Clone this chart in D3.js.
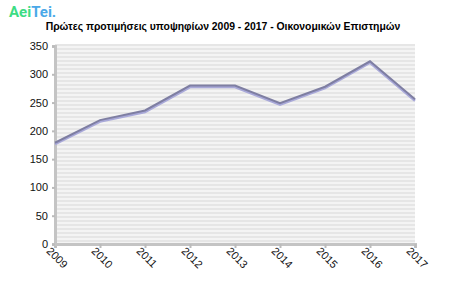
<!DOCTYPE html>
<html>
<head>
<meta charset="utf-8">
<script src="https://d3js.org/d3.v7.min.js"></script>
<style>
  body { margin: 0; background: #fff; font-family: "Liberation Sans", Arial, sans-serif; }
</style>
</head>
<body>
<div id="chart"></div>
<script>
const years = ["2009", "2010", "2011", "2012", "2013", "2014", "2015", "2016", "2017"]
const values = [179, 219, 236, 280, 280, 249, 278, 323, 256]
const yTicks = [0, 50, 100, 150, 200, 250, 300, 350]
const title = "Πρώτες προτιμήσεις υποψηφίων 2009 - 2017 - Οικονομικών Επιστημών"

const w = 450, h = 300
const padding = { top: 46, right: 35, bottom: 56, left: 55 }

const svg = d3.select("#chart").append("svg")
    .attr("width", w)
    .attr("height", h)

// striped plot background
const defs = svg.append("defs")
const pat = defs.append("pattern")
    .attr("id", "stripes")
    .attr("patternUnits", "userSpaceOnUse")
    .attr("width", 8).attr("height", 4)
pat.append("rect").attr("width", 8).attr("height", 4).attr("fill", "#f4f4f4")
pat.append("rect").attr("y", 0).attr("width", 8).attr("height", 2).attr("fill", "#e6e6e6")

const xScale = d3.scalePoint()
    .domain(years)
    .range([padding.left, w - padding.right])
const yScale = d3.scaleLinear()
    .domain([0, 350])
    .range([h - padding.bottom, padding.top])

svg.append("rect")
    .attr("x", padding.left)
    .attr("y", yScale(350) - 2)
    .attr("width", w - padding.right - padding.left)
    .attr("height", yScale(0) - yScale(350) + 2)
    .attr("fill", "url(#stripes)")

// logo
const logo = svg.append("text")
    .attr("x", 9).attr("y", 17)
    .style("font-family", "Roboto, sans-serif")
    .style("font-size", "15px")
    .style("font-weight", "bold")
logo.append("tspan").attr("fill", "#3ddc84").text("Aei")
logo.append("tspan").attr("fill", "#4aa8e8").text("Tei")
logo.append("tspan").attr("fill", "#4aa8e8").text(".")

svg.append("text")
    .attr("x", 223).attr("y", 30)
    .attr("text-anchor", "middle")
    .style("font-size", "10.4px")
    .style("font-weight", "bold")
    .style("fill", "#000")
    .text(title)

const xAxis = d3.axisBottom(xScale).tickSize(4).tickPadding(4)
const yAxis = d3.axisLeft(yScale).tickValues(yTicks).tickSize(3).tickPadding(4)

const gx = svg.append("g")
    .attr("transform", "translate(0," + (h - padding.bottom) + ")")
    .call(xAxis)
gx.select(".domain").attr("stroke", "#c4c4c4").attr("stroke-width", 3)
gx.selectAll(".tick line").attr("stroke", "#bbb").attr("stroke-width", 2)
gx.selectAll(".tick text")
    .style("font-size", "11px")
    .style("font-family", "'Liberation Sans', Arial, sans-serif")
    .attr("fill", "#111")
    .attr("text-anchor", "start")
    .attr("dy", 0)
    .attr("transform", "translate(-4,2) rotate(45)")

const gy = svg.append("g")
    .attr("transform", "translate(" + padding.left + ",0)")
    .call(yAxis)
gy.select(".domain").attr("stroke", "#c4c4c4").attr("stroke-width", 3)
gy.selectAll(".tick line").attr("stroke", "#bbb").attr("stroke-width", 2)
gy.selectAll(".tick text")
    .style("font-size", "11px")
    .style("font-family", "'Liberation Sans', Arial, sans-serif")
    .attr("fill", "#111")

const data = years.map((y, i) => ({ year: y, value: values[i] }))
const line = d3.line()
    .x(d => xScale(d.year))
    .y(d => yScale(d.value))

// shadow line then main line
svg.append("path")
    .datum(data)
    .attr("d", line)
    .attr("transform", "translate(0,1.5)")
    .attr("fill", "none")
    .attr("stroke", "#a9a9d9")
    .attr("stroke-width", 2.5)
svg.append("path")
    .datum(data)
    .attr("d", line)
    .attr("fill", "none")
    .attr("stroke", "#7e7ea2")
    .attr("stroke-width", 2)
</script>
</body>
</html>
